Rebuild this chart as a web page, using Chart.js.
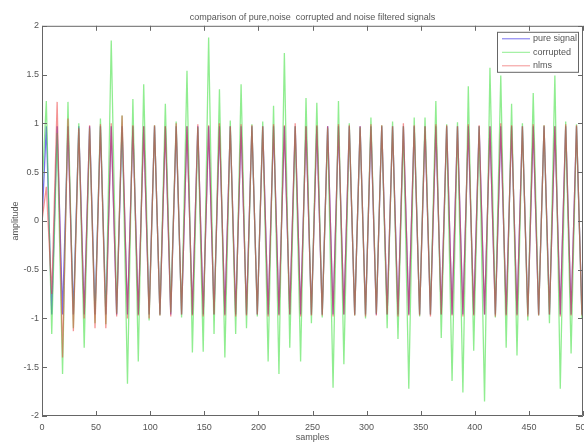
<!DOCTYPE html>
<html>
<head>
<meta charset="utf-8">
<title>comparison of pure,noise corrupted and noise filtered signals</title>
<script src="https://cdn.jsdelivr.net/npm/chart.js@4.4.0/dist/chart.umd.min.js"></script>
<style>
  html, body { margin: 0; padding: 0; background: #fff; }
  #wrap { width: 584px; height: 444px; }
</style>
</head>
<body>
<div id="wrap"><canvas id="signals" width="584" height="444"></canvas></div>
<script>
// sample index of every turning point (peak, trough) of the 50 cycles
const samples = [
  0,
  4, 9, 14, 19, 24, 29, 34, 39, 44, 49,
  54, 59, 64, 69, 74, 79, 84, 89, 94, 99,
  104, 109, 114, 119, 124, 129, 134, 139, 144, 149,
  154, 159, 164, 169, 174, 179, 184, 189, 194, 199,
  204, 209, 214, 219, 224, 229, 234, 239, 244, 249,
  254, 259, 264, 269, 274, 279, 284, 289, 294, 299,
  304, 309, 314, 319, 324, 329, 334, 339, 344, 349,
  354, 359, 364, 369, 374, 379, 384, 389, 394, 399,
  404, 409, 414, 419, 424, 429, 434, 439, 444, 449,
  454, 459, 464, 469, 474, 479, 484, 489, 494, 499,
  500
];

const pureSignal = [
  0,
  0.97, -0.96, 0.97, -0.96, 0.97, -0.96, 0.97, -0.96, 0.97, -0.96,
  0.97, -0.96, 0.97, -0.96, 0.97, -0.96, 0.97, -0.96, 0.97, -0.96,
  0.97, -0.96, 0.97, -0.96, 0.97, -0.96, 0.97, -0.96, 0.97, -0.96,
  0.97, -0.96, 0.97, -0.96, 0.97, -0.96, 0.97, -0.96, 0.97, -0.96,
  0.97, -0.96, 0.97, -0.96, 0.97, -0.96, 0.97, -0.96, 0.97, -0.96,
  0.97, -0.96, 0.97, -0.96, 0.97, -0.96, 0.97, -0.96, 0.97, -0.96,
  0.97, -0.96, 0.97, -0.96, 0.97, -0.96, 0.97, -0.96, 0.97, -0.96,
  0.97, -0.96, 0.97, -0.96, 0.97, -0.96, 0.97, -0.96, 0.97, -0.96,
  0.97, -0.96, 0.97, -0.96, 0.97, -0.96, 0.97, -0.96, 0.97, -0.96,
  0.97, -0.96, 0.97, -0.96, 0.97, -0.96, 0.97, -0.96, 0.97, -0.96,
  -0.8
];

const corrupted = [
  0.3,
  1.23, -1.16, 0.90, -1.57, 1.22, -1.10, 1.00, -1.30, 0.95, -1.05,
  1.05, -1.06, 1.85, -0.95, 1.08, -1.67, 1.25, -1.44, 1.40, -1.02,
  0.98, -0.97, 1.20, -0.94, 1.02, -0.99, 1.54, -1.35, 0.96, -1.34,
  1.88, -1.16, 1.35, -1.40, 1.03, -1.16, 1.40, -1.10, 0.99, -0.98,
  1.02, -1.44, 1.18, -1.57, 1.72, -1.30, 0.97, -1.44, 1.26, -1.05,
  1.21, -0.99, 0.95, -1.71, 1.23, -1.47, 1.00, -0.97, 0.96, -1.00,
  1.06, -0.95, 0.98, -1.10, 1.02, -1.21, 0.97, -1.72, 1.06, -0.98,
  1.06, -0.96, 1.23, -1.20, 0.99, -1.64, 1.01, -1.76, 1.38, -1.33,
  0.97, -1.85, 1.57, -0.99, 1.49, -1.30, 1.20, -1.38, 1.00, -1.02,
  1.31, -0.97, 0.98, -1.05, 1.49, -1.72, 1.02, -1.36, 0.99, -1.00,
  -0.75
];

const nlms = [
  0,
  0.35, -0.75, 1.22, -1.40, 1.05, -1.13, 0.95, -1.00, 0.98, -1.10,
  0.99, -1.10, 1.00, -0.98, 1.08, -1.00, 0.98, -0.97, 0.97, -1.00,
  0.98, -0.97, 0.97, -0.98, 1.00, -0.96, 0.97, -0.97, 0.99, -0.98,
  0.98, -0.96, 1.00, -0.97, 0.97, -0.98, 0.99, -0.97, 0.98, -0.96,
  0.97, -0.98, 0.99, -0.97, 0.98, -0.96, 1.00, -0.98, 0.97, -0.97,
  0.98, -0.97, 0.97, -0.98, 0.99, -0.96, 0.98, -0.97, 0.97, -0.98,
  0.99, -0.97, 0.98, -0.96, 0.97, -0.98, 1.00, -0.97, 0.98, -0.97,
  0.97, -0.98, 0.99, -0.96, 0.98, -0.97, 0.97, -0.98, 0.99, -0.97,
  0.98, -0.96, 0.97, -0.98, 1.00, -0.97, 0.98, -0.97, 0.97, -0.98,
  0.99, -0.97, 0.98, -0.96, 0.97, -0.98, 0.99, -0.97, 0.98, -0.97,
  -0.78
];

const xTicks = [0, 50, 100, 150, 200, 250, 300, 350, 400, 450, 500];
const yTicks = [-2, -1.5, -1, -0.5, 0, 0.5, 1, 1.5, 2];

const FONT = { family: '"Liberation Sans", Arial, sans-serif', size: 9 };
const TEXT = '#555';

const toPoints = (ys) => samples.map((s, i) => ({ x: s, y: ys[i] }));

// MATLAB style box with inward ticks, plus the boxed legend in the corner
const matlabAxes = {
  id: 'matlabAxes',
  afterDatasetsDraw(chart) {
    const { ctx, chartArea: a, scales: { x, y } } = chart;
    ctx.save();
    ctx.strokeStyle = '#666';
    ctx.lineWidth = 1;
    ctx.beginPath();
    ctx.rect(a.left + 0.5, a.top + 0.5, a.right - a.left - 1, a.bottom - a.top - 1);
    xTicks.forEach((v) => {
      const px = Math.round(x.getPixelForValue(v)) + 0.5;
      ctx.moveTo(px, a.bottom); ctx.lineTo(px, a.bottom - 5);
      ctx.moveTo(px, a.top); ctx.lineTo(px, a.top + 5);
    });
    yTicks.forEach((v) => {
      const py = Math.round(y.getPixelForValue(v)) + 0.5;
      ctx.moveTo(a.left, py); ctx.lineTo(a.left + 5, py);
      ctx.moveTo(a.right, py); ctx.lineTo(a.right - 5, py);
    });
    ctx.stroke();

    // legend
    const bw = 81, bh = 40;
    const bx = a.right - 5 - bw, by = a.top + 6;
    ctx.fillStyle = '#fff';
    ctx.fillRect(bx, by, bw, bh);
    ctx.strokeStyle = '#666';
    ctx.strokeRect(bx + 0.5, by + 0.5, bw, bh);
    ctx.font = FONT.size + 'px ' + FONT.family;
    ctx.textBaseline = 'middle';
    ctx.textAlign = 'left';
    chart.data.datasets.forEach((ds, i) => {
      const ly = by + 7 + i * 13.5;
      ctx.strokeStyle = ds.borderColor;
      ctx.beginPath();
      ctx.moveTo(bx + 5, ly);
      ctx.lineTo(bx + 33, ly);
      ctx.stroke();
      ctx.fillStyle = TEXT;
      ctx.fillText(ds.label, bx + 36, ly);
    });
    ctx.restore();
  }
};

const ctx = document.getElementById('signals').getContext('2d');
new Chart(ctx, {
  type: 'line',
  data: {
    datasets: [
      {
        label: 'pure signal',
        data: toPoints(pureSignal),
        borderColor: 'rgba(60, 50, 230, 0.7)',
        borderWidth: 1.3,
        pointRadius: 0,
        tension: 0,
        order: 3
      },
      {
        label: 'corrupted',
        data: toPoints(corrupted),
        borderColor: 'rgba(70, 225, 70, 0.6)',
        borderWidth: 1.3,
        pointRadius: 0,
        tension: 0,
        order: 2
      },
      {
        label: 'nlms',
        data: toPoints(nlms),
        borderColor: 'rgba(235, 60, 60, 0.55)',
        borderWidth: 1.3,
        pointRadius: 0,
        tension: 0,
        order: 1
      }
    ]
  },
  options: {
    responsive: false,
    animation: false,
    devicePixelRatio: 1,
    layout: { padding: { left: 0, right: 1, top: 0, bottom: 0 } },
    plugins: {
      legend: { display: false },
      tooltip: { enabled: false },
      title: {
        display: true,
        fullSize: false,
        text: 'comparison of pure,noise  corrupted and noise filtered signals',
        font: { ...FONT, weight: 'normal' },
        color: TEXT,
        padding: { top: 12, bottom: 3 }
      }
    },
    scales: {
      x: {
        type: 'linear',
        min: 0,
        max: 500,
        afterBuildTicks: (s) => { s.ticks = xTicks.map((v) => ({ value: v })); },
        afterFit: (s) => { s.height = 28; s.paddingLeft = 0; s.paddingRight = 0; },
        grid: { display: false, drawTicks: false },
        border: { display: false },
        ticks: { font: FONT, color: TEXT, padding: 6, maxRotation: 0, autoSkip: false, callback: (v) => String(v) },
        title: { display: true, text: 'samples', font: FONT, color: TEXT, padding: { top: 0, bottom: 1 } }
      },
      y: {
        type: 'linear',
        min: -2,
        max: 2,
        afterBuildTicks: (s) => { s.ticks = yTicks.map((v) => ({ value: v })); },
        afterFit: (s) => { s.width = 42; s.paddingTop = 0; s.paddingBottom = 0; },
        grid: { display: false, drawTicks: false },
        border: { display: false },
        ticks: { font: FONT, color: TEXT, padding: 3, callback: (v) => String(v) },
        title: { display: true, text: 'amplitude', font: FONT, color: TEXT, padding: { top: 10, bottom: 0 } }
      }
    }
  },
  plugins: [matlabAxes]
});
</script>
</body>
</html>
